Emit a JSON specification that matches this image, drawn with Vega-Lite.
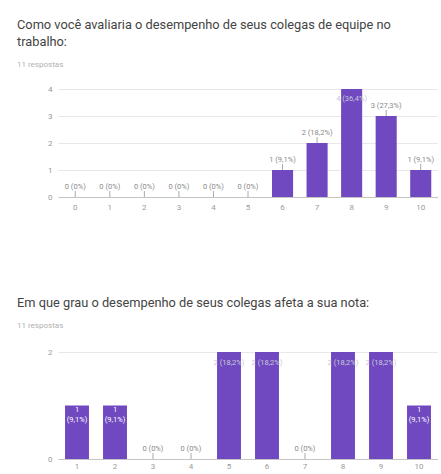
{
  "$schema": "https://vega.github.io/schema/vega-lite/v6.json",
  "background": "white",
  "padding": {"left": 17, "top": 19, "right": 0, "bottom": 0},
  "datasets": {
    "q1": [
      {"score": 0, "count": 0, "label": "0 (0%)"},
      {"score": 1, "count": 0, "label": "0 (0%)"},
      {"score": 2, "count": 0, "label": "0 (0%)"},
      {"score": 3, "count": 0, "label": "0 (0%)"},
      {"score": 4, "count": 0, "label": "0 (0%)"},
      {"score": 5, "count": 0, "label": "0 (0%)"},
      {"score": 6, "count": 1, "label": "1 (9,1%)"},
      {"score": 7, "count": 2, "label": "2 (18,2%)"},
      {"score": 8, "count": 4, "label": "4 (36,4%)"},
      {"score": 9, "count": 3, "label": "3 (27,3%)"},
      {"score": 10, "count": 1, "label": "1 (9,1%)"}
    ],
    "q2": [
      {"score": 1, "count": 1, "label": "1\n(9,1%)"},
      {"score": 2, "count": 1, "label": "1\n(9,1%)"},
      {"score": 3, "count": 0, "label": "0 (0%)"},
      {"score": 4, "count": 0, "label": "0 (0%)"},
      {"score": 5, "count": 2, "label": "2 (18,2%)"},
      {"score": 6, "count": 2, "label": "2 (18,2%)"},
      {"score": 7, "count": 0, "label": "0 (0%)"},
      {"score": 8, "count": 2, "label": "2 (18,2%)"},
      {"score": 9, "count": 2, "label": "2 (18,2%)"},
      {"score": 10, "count": 1, "label": "1\n(9,1%)"}
    ]
  },
  "spacing": 86,
  "vconcat": [
    {
      "title": {
        "text": ["Como você avaliaria o desempenho de seus colegas de equipe no", "trabalho:"],
        "subtitle": "11 respostas"
      },
      "width": 380,
      "height": 108,
      "data": {"name": "q1"},
      "encoding": {
        "x": {"field": "score", "type": "ordinal", "scale": {"paddingInner": 0.39}, "axis": {"title": null}},
        "y": {"field": "count", "type": "quantitative", "scale": {"domain": [0, 4], "nice": false}, "axis": {"title": null, "values": [0, 1, 2, 3, 4], "format": "d"}}
      },
      "layer": [
        {"mark": {"type": "bar", "color": "#7048c0"}},
        {
          "transform": [{"filter": "datum.count < 4"}],
          "mark": {"type": "rule", "color": "#aaaaaa", "strokeWidth": 1, "y2Offset": -6},
          "encoding": {"y2": {"field": "count"}}
        },
        {
          "transform": [{"filter": "datum.count < 4"}],
          "mark": {"type": "text", "dy": -10, "fontSize": 7.5, "color": "#8a8a8a"},
          "encoding": {"text": {"field": "label"}}
        },
        {
          "transform": [{"filter": "datum.count == 4"}],
          "mark": {"type": "text", "dy": 10, "fontSize": 7.5, "color": "#c8c8d8"},
          "encoding": {"text": {"field": "label"}}
        }
      ]
    },
    {
      "title": {
        "text": "Em que grau o desempenho de seus colegas afeta a sua nota:",
        "subtitle": "11 respostas",
        "offset": 18
      },
      "width": 380,
      "height": 107,
      "data": {"name": "q2"},
      "encoding": {
        "x": {"field": "score", "type": "ordinal", "scale": {"paddingInner": 0.37}, "axis": {"title": null, "labelPadding": 3}},
        "y": {"field": "count", "type": "quantitative", "scale": {"domain": [0, 2], "nice": false}, "axis": {"title": null, "values": [0, 1, 2], "format": "d"}}
      },
      "layer": [
        {"mark": {"type": "bar", "color": "#7048c0"}},
        {
          "transform": [{"filter": "datum.count == 0"}],
          "mark": {"type": "rule", "color": "#aaaaaa", "strokeWidth": 1, "y2Offset": -6},
          "encoding": {"y2": {"field": "count"}}
        },
        {
          "transform": [{"filter": "datum.count == 0"}],
          "mark": {"type": "text", "dy": -10, "fontSize": 7.5, "color": "#8a8a8a"},
          "encoding": {"text": {"field": "label"}}
        },
        {
          "transform": [{"filter": "datum.count == 1"}],
          "mark": {"type": "text", "baseline": "top", "dy": 0, "fontSize": 7.5, "lineHeight": 10, "lineBreak": "\n", "color": "#ffffff"},
          "encoding": {"text": {"field": "label"}}
        },
        {
          "transform": [{"filter": "datum.count == 2"}],
          "mark": {"type": "text", "dy": 11, "fontSize": 7.5, "color": "#c8c8d8"},
          "encoding": {"text": {"field": "label"}}
        }
      ]
    }
  ],
  "config": {
    "font": "Roboto",
    "view": {"stroke": null},
    "title": {
      "anchor": "start",
      "frame": "group",
      "dx": -41,
      "font": "Roboto",
      "fontSize": 12.8,
      "fontWeight": "normal",
      "color": "#444444",
      "lineHeight": 17,
      "subtitleFont": "Roboto",
      "subtitleFontSize": 8,
      "subtitleColor": "#b0b0b0",
      "subtitlePadding": 12,
      "offset": 16
    },
    "axisY": {
      "domain": false,
      "ticks": false,
      "gridColor": "#e8e8e8",
      "labelColor": "#9a9a9a",
      "labelFontSize": 8,
      "labelPadding": 6
    },
    "axisX": {
      "domainColor": "#c4c4c4",
      "ticks": false,
      "labelAngle": 0,
      "labelColor": "#9a9a9a",
      "labelFontSize": 8,
      "labelPadding": 6,
      "grid": false
    }
  }
}
